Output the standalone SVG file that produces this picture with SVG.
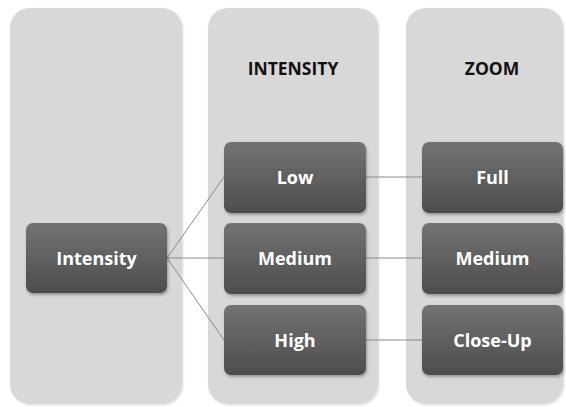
<svg xmlns="http://www.w3.org/2000/svg" width="566" height="407" viewBox="0 0 566 407">
<defs>
<linearGradient id="g" x1="0" y1="0" x2="0" y2="1">
<stop offset="0" stop-color="#737373"/>
<stop offset="1" stop-color="#4d4d4d"/>
</linearGradient>
<filter id="sh" x="-10%" y="-10%" width="125%" height="130%">
<feDropShadow dx="1" dy="2" stdDeviation="1.5" flood-color="#000" flood-opacity="0.3"/>
</filter>
<filter id="sh2" x="-5%" y="-5%" width="110%" height="110%">
<feDropShadow dx="1" dy="1" stdDeviation="1" flood-color="#000" flood-opacity="0.15"/>
</filter>
</defs>
<style>
.col{fill:#d8d8d8;filter:url(#sh2)}
.box{fill:url(#g);filter:url(#sh)}
.lbl{font-family:"Open Sans","Liberation Sans",sans-serif;font-weight:bold;font-size:18px;fill:#ffffff;text-anchor:middle}
.hdr{font-family:"Open Sans","Liberation Sans",sans-serif;font-weight:bold;font-size:17.5px;fill:#111111;text-anchor:middle}
.con{stroke:#8a8a8a;stroke-width:1;fill:none}
</style>
<rect x="0" y="0" width="566" height="407" fill="#ffffff"/>
<g id="col1"><rect class="col" x="10" y="8" width="172" height="396" rx="20"/></g>
<g id="col2"><rect class="col" x="208" y="8" width="170" height="396" rx="20"/><text class="hdr" x="293" y="75">INTENSITY</text></g>
<g id="col3"><rect class="col" x="406" y="8" width="157" height="396" rx="20"/><text class="hdr" x="492" y="75">ZOOM</text></g>
<g id="connectors">
<line class="con" x1="167" y1="258" x2="224" y2="177"/>
<line class="con" x1="167" y1="258" x2="224" y2="258"/>
<line class="con" x1="167" y1="258" x2="224" y2="340"/>
<line class="con" x1="366" y1="177" x2="422" y2="177"/>
<line class="con" x1="366" y1="258" x2="422" y2="258"/>
<line class="con" x1="366" y1="340" x2="422" y2="340"/>
</g>
<g id="n-intensity"><rect class="box" x="26" y="223" width="141" height="70" rx="7"/><text class="lbl" x="96.5" y="264.5">Intensity</text></g>
<g id="n-low"><rect class="box" x="224" y="142" width="142" height="71" rx="7"/><text class="lbl" x="295" y="183.5">Low</text></g>
<g id="n-medium"><rect class="box" x="224" y="223" width="142" height="71" rx="7"/><text class="lbl" x="295" y="264.5">Medium</text></g>
<g id="n-high"><rect class="box" x="224" y="305" width="142" height="70" rx="7"/><text class="lbl" x="295" y="346.5">High</text></g>
<g id="n-full"><rect class="box" x="422" y="142" width="141" height="71" rx="7"/><text class="lbl" x="492.5" y="183.5">Full</text></g>
<g id="n-medium2"><rect class="box" x="422" y="223" width="141" height="71" rx="7"/><text class="lbl" x="492.5" y="264.5">Medium</text></g>
<g id="n-closeup"><rect class="box" x="422" y="305" width="141" height="70" rx="7"/><text class="lbl" x="492.5" y="346.5">Close-Up</text></g>
</svg>
